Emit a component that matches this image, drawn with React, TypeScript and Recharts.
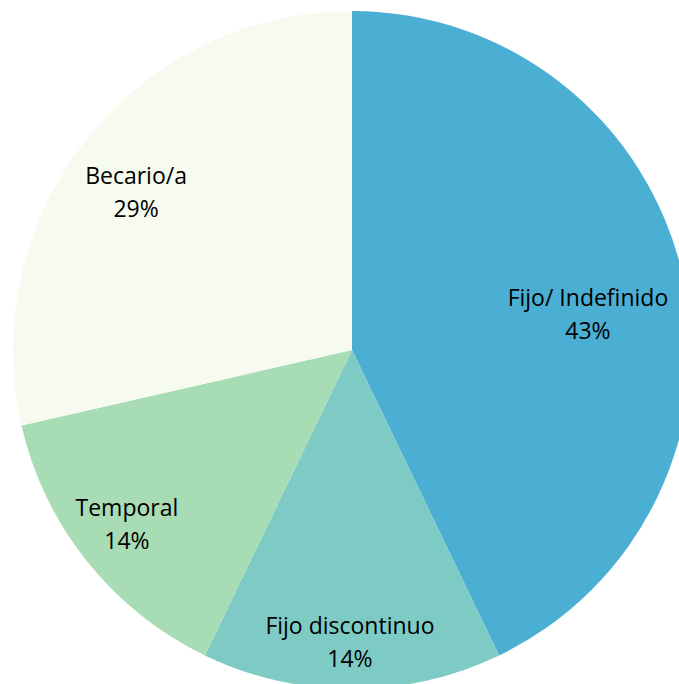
import React from 'react';
import { PieChart, Pie, Cell } from 'recharts';

const categories = ['Fijo/ Indefinido', 'Fijo discontinuo', 'Temporal', 'Becario/a'];
const counts = [3, 1, 1, 2];
const colors = ['#4BAFD3', '#7DCBC4', '#A8DCB5', '#F7FBEF'];

// label placement, as fraction of the radius from the centre (Excel "best fit")
const labelOffsets = [
  [0.696, -0.103],
  [-0.006, 0.863],
  [-0.664, 0.516],
  [-0.637, -0.462],
];

const data = categories.map((name, i) => ({ name, value: counts[i] }));
const total = counts.reduce((a, b) => a + b, 0);

const renderLabel = (props: any) => {
  const { cx, cy, outerRadius, index } = props;
  const [fx, fy] = labelOffsets[index];
  const x = cx + fx * outerRadius;
  const y = cy + fy * outerRadius;
  const pct = Math.round((counts[index] / total) * 100) + '%';
  return (
    <text
      x={x}
      y={y}
      textAnchor="middle"
      fill="#000"
      style={{ fontSize: 23, fontFamily: "'Open Sans', sans-serif" }}
    >
      <tspan x={x} dy={-9}>{categories[index]}</tspan>
      <tspan x={x} dy={33}>{pct}</tspan>
    </text>
  );
};

export default function App() {
  return (
    <div style={{ position: 'absolute', top: 0, left: 0, width: 679, height: 684, background: '#fff' }}>
      <PieChart width={679} height={684} margin={{ top: 0, right: 0, bottom: 0, left: 0 }}>
        <Pie
          data={data}
          dataKey="value"
          nameKey="name"
          cx={352}
          cy={350}
          outerRadius={339}
          startAngle={90}
          endAngle={-270}
          stroke="none"
          label={renderLabel}
          labelLine={false}
          isAnimationActive={false}
        >
          {data.map((d, i) => (
            <Cell key={d.name} fill={colors[i]} />
          ))}
        </Pie>
      </PieChart>
    </div>
  );
}
